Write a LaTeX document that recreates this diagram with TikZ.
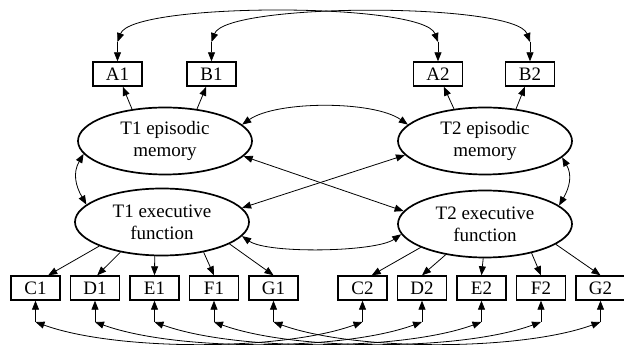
\documentclass[tikz,border=0pt]{standalone}
\usepackage{fontspec}
\setmainfont{Liberation Serif}
\usetikzlibrary{positioning,shapes,arrows.meta}

\begin{document}
\begin{tikzpicture}[x=1pt, y=1pt, >={Triangle[length=9pt,width=7pt]}]
  \useasboundingbox (0,0) rectangle (624,345);

  \tikzset{every node/.style={font=\fontsize{19}{22}\selectfont}}
  \tikzset{latent/.style={ellipse, draw, line width=1.7pt, minimum width=174pt, minimum height=67pt, inner sep=0pt, align=center}}
  \tikzset{indicator/.style={rectangle, draw, line width=1.4pt, minimum width=49pt, minimum height=24pt, inner sep=0pt}}
  \tikzset{load/.style={->, line width=0.8pt}}
  \tikzset{corr/.style={<->, line width=0.8pt}}

  % latent factors
  \node[latent] (T1em) at (165,204) {T1 episodic\\memory};
  \node[latent] (T2em) at (485,204) {T2 episodic\\memory};
  \node[latent] (T1ef) at (162,123) {T1 executive\\function};
  \node[latent] (T2ef) at (485,121) {T2 executive\\function};

  % memory indicators
  \node[indicator] (A1) at (117.5,271) {A1};
  \node[indicator] (B1) [right of=A1, node distance=94pt] {B1};
  \node[indicator] (A2) at (438,271) {A2};
  \node[indicator] (B2) [right of=A2, node distance=92pt] {B2};

  % executive indicators
  \node[indicator] (C1) at (35.5,57) {C1};
  \node[indicator] (D1) [right of=C1, node distance=59.5pt] {D1};
  \node[indicator] (E1) [right of=D1, node distance=59.5pt] {E1};
  \node[indicator] (F1) [right of=E1, node distance=59.5pt] {F1};
  \node[indicator] (G1) [right of=F1, node distance=59.5pt] {G1};
  \node[indicator] (C2) at (362.5,57) {C2};
  \node[indicator] (D2) [right of=C2, node distance=59.5pt] {D2};
  \node[indicator] (E2) [right of=D2, node distance=59.5pt] {E2};
  \node[indicator] (F2) [right of=E2, node distance=59.5pt] {F2};
  \node[indicator] (G2) [right of=F2, node distance=59.5pt] {G2};

  % error terms
  \coordinate[above of=A1, node distance=32pt] (a1);
  \coordinate[above of=B1, node distance=32pt] (b1);
  \coordinate[above of=A2, node distance=32pt] (a2);
  \coordinate[above of=B2, node distance=32pt] (b2);
  \coordinate[below of=C1, node distance=34pt] (c1);
  \coordinate[below of=D1, node distance=34pt] (d1);
  \coordinate[below of=E1, node distance=34pt] (e1);
  \coordinate[below of=F1, node distance=34pt] (f1);
  \coordinate[below of=G1, node distance=34pt] (g1);
  \coordinate[below of=C2, node distance=34pt] (c2);
  \coordinate[below of=D2, node distance=34pt] (d2);
  \coordinate[below of=E2, node distance=34pt] (e2);
  \coordinate[below of=F2, node distance=34pt] (f2);
  \coordinate[below of=G2, node distance=34pt] (g2);

  % loadings
  \path (T1em.136) edge [load] (A1);
  \path (T1em.45) edge [load] (B1);
  \path (T2em.134) edge [load] (A2);
  \path (T2em.46) edge [load] (B2);
  \path (T1ef.201) edge [load] (C1.45);
  \path (T1ef.216) edge [load] (D1.80);
  \path (T1ef.258) edge [load] (E1.north);
  \path (T1ef.324) edge [load] (F1.north);
  \path (T1ef.342) edge [load] (G1.north);
  \path (T2ef.200) edge [load] (C2.54);
  \path (T2ef.218) edge [load] (D2.north);
  \path (T2ef.267) edge [load] (E2.north);
  \path (T2ef.328) edge [load] (F2.north);
  \path (T2ef.344) edge [load] (G2.north);

  % residuals
  \path (a1) edge [load] (A1);
  \path (b1) edge [load] (B1);
  \path (a2) edge [load] (A2);
  \path (b2) edge [load] (B2);
  \path (c1) edge [load] (C1);
  \path (d1) edge [load] (D1);
  \path (e1) edge [load] (E1);
  \path (f1) edge [load] (F1);
  \path (g1) edge [load] (G1);
  \path (c2) edge [load] (C2);
  \path (d2) edge [load] (D2);
  \path (e2) edge [load] (E2);
  \path (f2) edge [load] (F2);
  \path (g2) edge [load] (G2);

  % covariances
  \path (T1em.12) edge [corr, out=35, in=145, looseness=0.65] (T2em.168);
  \path (T1ef.350) edge [corr, out=-35, in=-145, looseness=0.5] (T2ef.187);
  \path (T1em.349) edge [corr] (T2ef.171);
  \path (T2em.190) edge [corr] (T1ef.10);
  \path (T1em.189) edge [corr, out=240, in=120, looseness=1.1] (T1ef.167);
  \path (T2em.348) edge [corr, out=-60, in=60, looseness=1.1] (T2ef.14);

  \path (a1) edge [corr, out=70, in=110, looseness=0.34] (a2);
  \path (b1) edge [corr, out=70, in=110, looseness=0.34] (b2);
  \path (c1) edge [corr, out=-20, in=-160, looseness=0.67] (c2);
  \path (d1) edge [corr, out=-20, in=-160, looseness=0.67] (d2);
  \path (e1) edge [corr, out=-20, in=-160, looseness=0.67] (e2);
  \path (f1) edge [corr, out=-20, in=-160, looseness=0.67] (f2);
  \path (g1) edge [corr, out=-20, in=-160, looseness=0.67] (g2);
\end{tikzpicture}
\end{document}
